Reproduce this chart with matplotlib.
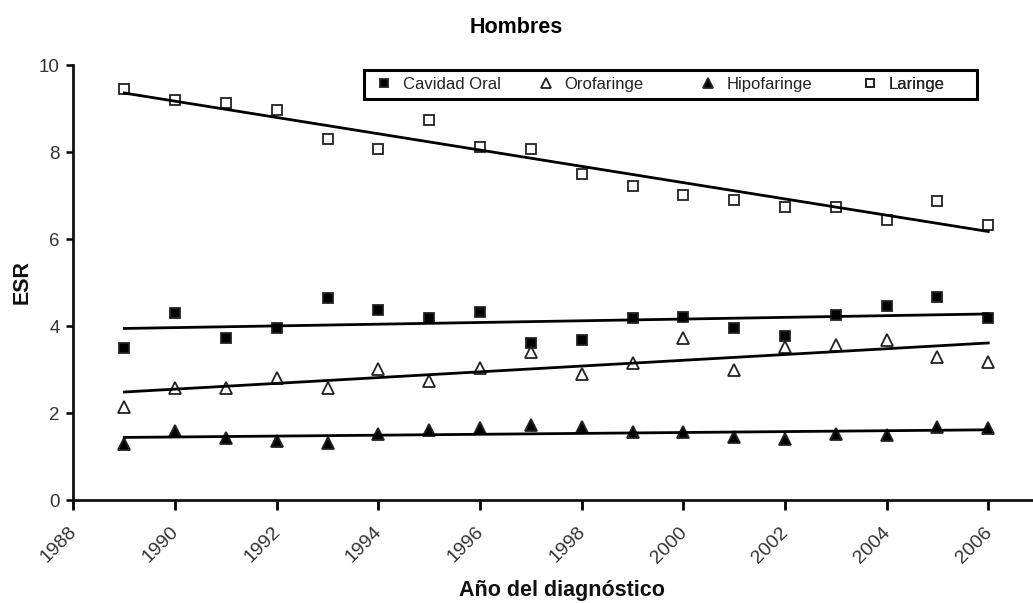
import matplotlib
matplotlib.use('Agg')
import matplotlib.pyplot as plt
import matplotlib.transforms as mtransforms
from matplotlib.patches import Rectangle
import numpy as np

plt.rcParams['font.family'] = ['Liberation Sans', 'DejaVu Sans']

years = np.arange(1989, 2007)

cavidad_oral = [3.50, 4.29, 3.73, 3.95, 4.64, 4.38, 4.19, 4.33, 3.62,
                3.69, 4.19, 4.21, 3.96, 3.77, 4.25, 4.46, 4.67, 4.18]
orofaringe = [2.13, 2.58, 2.58, 2.81, 2.57, 3.01, 2.74, 3.03, 3.41,
              2.90, 3.14, 3.72, 3.00, 3.51, 3.56, 3.69, 3.29, 3.18]
hipofaringe = [1.29, 1.59, 1.42, 1.36, 1.30, 1.52, 1.62, 1.65, 1.72,
               1.68, 1.57, 1.57, 1.46, 1.40, 1.51, 1.49, 1.68, 1.65]
laringe = [9.45, 9.20, 9.12, 8.97, 8.29, 8.08, 8.74, 8.12, 8.07,
           7.49, 7.23, 7.01, 6.90, 6.74, 6.74, 6.44, 6.88, 6.32]

series = [
    ("Cavidad Oral", cavidad_oral, 's', 'black', 7.5),
    ("Orofaringe", orofaringe, '^', 'none', 8.5),
    ("Hipofaringe", hipofaringe, '^', 'black', 8.5),
    ("Laringe", laringe, 's', 'none', 7.5),
]

fig = plt.figure(figsize=(10.33, 6.03), dpi=100)
ax = fig.add_axes([0.0711, 0.1708, 0.9289, 0.7212])

handles = []
for name, vals, marker, face, ms in series:
    h, = ax.plot(years, vals, linestyle='none', marker=marker, markersize=ms,
                 markerfacecolor=face, markeredgecolor='#222222',
                 markeredgewidth=1.3, label=name)
    handles.append(h)
    # linear trend line
    coef = np.polyfit(years, vals, 1)
    ax.plot(years[[0, -1]], np.polyval(coef, years[[0, -1]]),
            color='black', linewidth=2)

ax.set_xlim(1988, 2006.88)
ax.set_ylim(0, 10)
ax.set_xticks(np.arange(1988, 2007, 2))
ax.set_yticks(np.arange(0, 11, 2))
ax.tick_params(axis='x', labelsize=14, length=7, width=2, pad=10,
               direction='out', labelcolor='#333333')
ax.tick_params(axis='y', labelsize=13.5, length=5, width=1.8, pad=5,
               direction='out', labelcolor='#333333')
shift = mtransforms.ScaledTranslation(-0.05, 0, fig.dpi_scale_trans)
for lab in ax.get_xticklabels():
    lab.set_rotation(45)
    lab.set_ha('right')
    lab.set_va('top')
    lab.set_rotation_mode('anchor')
    lab.set_transform(lab.get_transform() + shift)

for side in ['top', 'right']:
    ax.spines[side].set_visible(False)
for side in ['left', 'bottom']:
    ax.spines[side].set_linewidth(2)
    ax.spines[side].set_color('#111111')

# legend: framed box with four equal-width columns
box = Rectangle((0.3028, 0.921), 0.6388, 0.0675, transform=ax.transAxes,
                facecolor='white', edgecolor='black', linewidth=2.2,
                zorder=5, clip_on=False)
ax.add_patch(box)
col_w = 0.1688
for i, h in enumerate(handles):
    leg = ax.legend([h], [h.get_label()], loc='center left',
                    bbox_to_anchor=(0.3153 + i * col_w, 0.955),
                    frameon=False, fontsize=12, markerscale=0.8,
                    handlelength=1.0, handletextpad=0.6, borderpad=0,
                    borderaxespad=0)
    leg.set_zorder(6)
    for t in leg.get_texts():
        t.set_color('#222222')
    ax.add_artist(leg)

fig.text(0.5, 0.955, "Hombres", ha='center', va='center',
         fontsize=15.5, fontweight='bold')
fig.text(0.544, 0.02, "Año del diagnóstico", ha='center', va='center',
         fontsize=15.5, fontweight='bold', color='#111111')
fig.text(0.021, 0.532, "ESR", ha='center', va='center', rotation=90,
         fontsize=15.5, fontweight='bold', color='#111111')

fig.savefig('out.png', dpi=100)
